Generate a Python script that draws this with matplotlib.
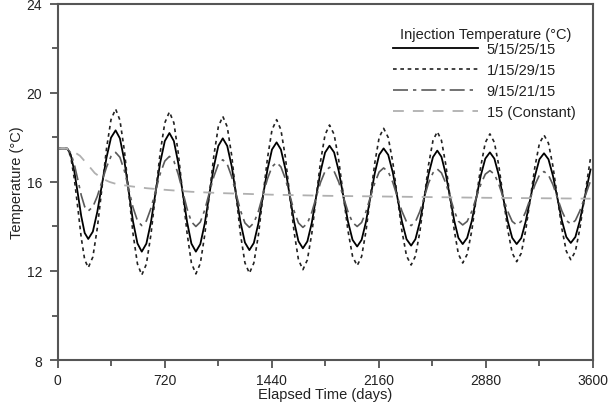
import matplotlib
matplotlib.use("Agg")
import matplotlib.pyplot as plt
from matplotlib.ticker import MultipleLocator

plt.rcParams['font.family'] = ['Liberation Sans', 'DejaVu Sans']

# elapsed time (days) shared by the three cyclic injection cases
days = [0, 65, 88, 112, 136, 159, 182, 206,
        237, 267, 298, 329, 359, 390,
        419, 449, 478, 507, 537, 566,
        597, 628, 659, 690, 721, 752,
        782, 811, 841, 871, 900, 930,
        960, 990, 1020, 1051, 1081, 1111,
        1141, 1171, 1200, 1230, 1260, 1290,
        1320, 1351, 1381, 1412, 1442, 1473,
        1502, 1532, 1561, 1591, 1620, 1650,
        1680, 1710, 1739, 1769, 1799, 1829,
        1860, 1891, 1922, 1953, 1984, 2015,
        2045, 2074, 2104, 2134, 2163, 2193,
        2224, 2255, 2285, 2316, 2347, 2378,
        2407, 2437, 2466, 2495, 2525, 2554,
        2582, 2611, 2640, 2668, 2696, 2725,
        2755, 2786, 2816, 2847, 2877, 2908,
        2938, 2968, 2998, 3028, 3058, 3088,
        3119, 3149, 3180, 3211, 3241, 3272,
        3302, 3332, 3362, 3392, 3422, 3452,
        3483, 3513, 3544, 3585]

temp_5_25 = [17.5, 17.5, 17.23, 16.49, 15.47, 14.46, 13.71, 13.44,
             13.77, 14.66, 15.88, 17.10, 17.99, 18.32,
             17.96, 16.96, 15.60, 14.23, 13.24, 12.87,
             13.23, 14.20, 15.54, 16.87, 17.84, 18.20,
             17.84, 16.87, 15.54, 14.20, 13.23, 12.87,
             13.21, 14.14, 15.42, 16.69, 17.62, 17.96,
             17.62, 16.71, 15.45, 14.20, 13.28, 12.94,
             13.26, 14.15, 15.36, 16.57, 17.46, 17.78,
             17.46, 16.59, 15.40, 14.21, 13.34, 13.02,
             13.33, 14.17, 15.33, 16.48, 17.32, 17.63,
             17.33, 16.50, 15.37, 14.23, 13.40, 13.10,
             13.40, 14.20, 15.31, 16.41, 17.22, 17.51,
             17.22, 16.42, 15.33, 14.23, 13.43, 13.14,
             13.43, 14.21, 15.28, 16.34, 17.12, 17.41,
             17.13, 16.36, 15.31, 14.26, 13.49, 13.21,
             13.49, 14.24, 15.27, 16.30, 17.05, 17.33,
             17.05, 16.30, 15.27, 14.24, 13.49, 13.21,
             13.48, 14.23, 15.25, 16.27, 17.02, 17.29,
             17.02, 16.28, 15.28, 14.27, 13.53, 13.26,
             13.53, 14.26, 15.26, 16.56]

temp_1_29 = [17.5, 17.5, 17.14, 16.16, 14.83, 13.49, 12.51, 12.15,
             12.63, 13.93, 15.72, 17.50, 18.80, 19.28,
             18.78, 17.42, 15.55, 13.69, 12.32, 11.82,
             12.31, 13.65, 15.49, 17.32, 18.66, 19.15,
             18.66, 17.33, 15.51, 13.69, 12.36, 11.87,
             12.34, 13.64, 15.41, 17.18, 18.48, 18.95,
             18.48, 17.19, 15.43, 13.66, 12.37, 11.90,
             12.36, 13.63, 15.35, 17.08, 18.34, 18.80,
             18.35, 17.12, 15.43, 13.75, 12.51, 12.06,
             12.50, 13.69, 15.31, 16.94, 18.12, 18.56,
             18.14, 16.98, 15.40, 13.82, 12.66, 12.24,
             12.65, 13.78, 15.33, 16.87, 18.00, 18.41,
             18.00, 16.88, 15.34, 13.81, 12.68, 12.27,
             12.67, 13.77, 15.27, 16.76, 17.86, 18.26,
             17.87, 16.79, 15.31, 13.84, 12.76, 12.36,
             12.75, 13.81, 15.26, 16.71, 17.77, 18.16,
             17.78, 16.73, 15.29, 13.86, 12.81, 12.42,
             12.80, 13.84, 15.27, 16.69, 17.73, 18.11,
             17.74, 16.71, 15.31, 13.91, 12.89, 12.51,
             12.88, 13.90, 15.28, 17.09]

temp_9_21 = [17.5, 17.5, 17.31, 16.80, 16.10, 15.40, 14.89, 14.70,
             14.88, 15.36, 16.02, 16.67, 17.15, 17.33,
             17.11, 16.51, 15.69, 14.86, 14.26, 14.04,
             14.25, 14.82, 15.60, 16.37, 16.94, 17.15,
             16.94, 16.36, 15.58, 14.79, 14.21, 14.00,
             14.20, 14.75, 15.50, 16.25, 16.80, 17.00,
             16.80, 16.24, 15.48, 14.72, 14.16, 13.96,
             14.16, 14.69, 15.42, 16.15, 16.68, 16.88,
             16.68, 16.15, 15.42, 14.69, 14.16, 13.96,
             14.14, 14.64, 15.31, 15.99, 16.48, 16.66,
             16.48, 16.00, 15.33, 14.67, 14.18, 14.00,
             14.18, 14.66, 15.32, 15.97, 16.45, 16.63,
             16.46, 15.98, 15.34, 14.69, 14.21, 14.04,
             14.21, 14.68, 15.31, 15.95, 16.41, 16.58,
             16.41, 15.95, 15.33, 14.70, 14.24, 14.07,
             14.23, 14.68, 15.29, 15.90, 16.35, 16.51,
             16.35, 15.90, 15.29, 14.68, 14.23, 14.07,
             14.23, 14.67, 15.27, 15.87, 16.31, 16.47,
             16.31, 15.88, 15.29, 14.70, 14.27, 14.11,
             14.27, 14.70, 15.28, 16.05]

# constant injection case
days_const = [0, 60, 100, 150, 200, 250, 300, 350, 400, 500, 600, 720,
              900, 1100, 1440, 1800, 2160, 2520, 2880, 3240, 3585]
temp_const = [17.5, 17.5, 17.4, 17.18, 16.8, 16.4, 16.15, 16.0, 15.9, 15.8,
              15.72, 15.65, 15.56, 15.5, 15.43, 15.38, 15.35, 15.32, 15.29,
              15.27, 15.25]

labels = ['5/15/25/15', '1/15/29/15', '9/15/21/15', '15 (Constant)']
x_ticks = [0, 720, 1440, 2160, 2880, 3600]
y_ticks = [8, 12, 16, 20, 24]

fig = plt.figure(figsize=(6.13, 4.14), dpi=100)
ax = fig.add_axes([0.094, 0.128, 0.873, 0.860])

ax.plot(days, temp_5_25, color='black', lw=1.3, label=labels[0])
ax.plot(days, temp_1_29, color='#222222', lw=1.2, ls=(0, (2.2, 2.2)), label=labels[1])
ax.plot(days, temp_9_21, color='#5a5a5a', lw=1.2, ls=(0, (9, 3, 2, 3)), label=labels[2])
ax.plot(days_const, temp_const, color='#b0b0b0', lw=1.3, ls=(0, (6, 5)), label=labels[3])

ax.set_xlim(0, 3600)
ax.set_ylim(8, 24)
ax.set_xticks(x_ticks)
ax.set_yticks(y_ticks)
ax.xaxis.set_minor_locator(MultipleLocator(360))
ax.yaxis.set_minor_locator(MultipleLocator(2))
ax.tick_params(which='major', direction='out', length=6, width=1.2,
               color='#444444', labelsize=10, labelcolor='#222222')
ax.tick_params(axis='x', which='major', pad=3)
ax.tick_params(axis='y', which='major', pad=5)
ax.tick_params(which='minor', direction='out', length=4, width=1.2, color='#444444')
for sp in ax.spines.values():
    sp.set_color('#555555')
    sp.set_linewidth(1.5)

ax.set_xlabel('Elapsed Time (days)', fontsize=10.5, color='#222222', labelpad=0)
ax.set_ylabel('Temperature (°C)', fontsize=10.5, color='#222222', labelpad=2)

ax.text(0.799, 0.9156, 'Injection Temperature (°C)', transform=ax.transAxes,
        ha='center', va='center', fontsize=10.5, color='#222222')
leg = ax.legend(loc='upper left', bbox_to_anchor=(0.616, 0.9094), borderaxespad=0,
                frameon=False, fontsize=10.5, handlelength=5.8,
                labelspacing=0.47, handletextpad=0.62)
for t in leg.get_texts():
    t.set_color('#222222')

fig.savefig('out.png', dpi=100)
